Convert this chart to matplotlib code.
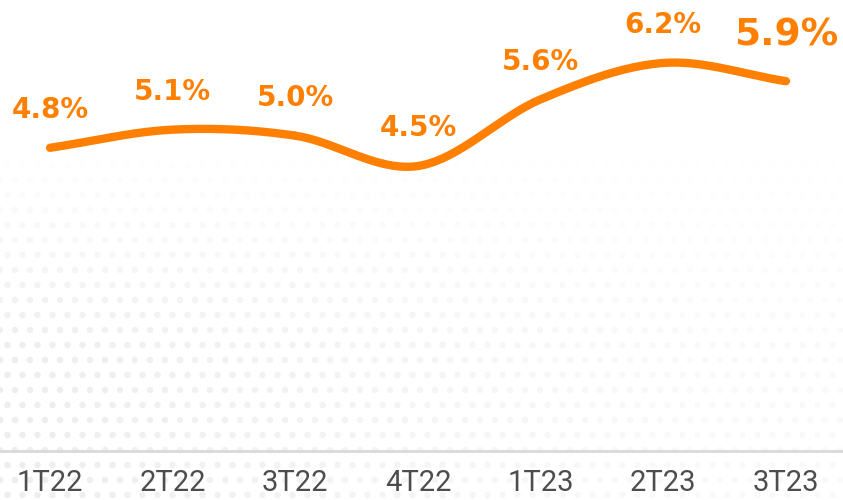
import numpy as np
import matplotlib
matplotlib.use("Agg")
import matplotlib.pyplot as plt

trimestres = ["1T22", "2T22", "3T22", "4T22", "1T23", "2T23", "3T23"]
valores = [4.8, 5.1, 5.0, 4.5, 5.6, 6.2, 5.9]
rotulos = ["4.8%", "5.1%", "5.0%", "4.5%", "5.6%", "6.2%", "5.9%"]

laranja = "#FF7F00"


def suavizar(x, y, n=40):
    # curva catmull-rom passando pelos pontos
    x = np.asarray(x, float)
    y = np.asarray(y, float)
    px = np.concatenate([[2 * x[0] - x[1]], x, [2 * x[-1] - x[-2]]])
    py = np.concatenate([[2 * y[0] - y[1]], y, [2 * y[-1] - y[-2]]])
    xs, ys = [], []
    t = np.linspace(0, 1, n)
    for i in range(1, len(px) - 2):
        for p, out in ((px, xs), (py, ys)):
            p0, p1, p2, p3 = p[i - 1], p[i], p[i + 1], p[i + 2]
            out.extend(0.5 * ((2 * p1) + (-p0 + p2) * t
                              + (2 * p0 - 5 * p1 + 4 * p2 - p3) * t ** 2
                              + (-p0 + 3 * p1 - 3 * p2 + p3) * t ** 3))
    return np.array(xs), np.array(ys)


fig = plt.figure(figsize=(8.43, 5), dpi=100)

# fundo pontilhado decorativo
bg = fig.add_axes([0, 0, 1, 1], zorder=0)
bg.set_xlim(0, 843)
bg.set_ylim(500, 0)
bg.axis("off")
gx, gy = np.meshgrid(np.arange(0, 843, 15), np.arange(150, 500, 15))
gx = gx + (gy // 15 % 2) * 7.5
forca = np.clip((gy - 150) / 200, 0, 1) * np.clip(1 - gx / 1000, 0.3, 1)
cores = np.zeros((gx.size, 4))
cores[:, :3] = 0.85
cores[:, 3] = (forca.ravel() * 0.45)
bg.scatter(gx.ravel(), gy.ravel(), s=22, c=cores, linewidths=0)

ax = fig.add_axes([0, 0.098, 1, 0.902], zorder=1)
ax.patch.set_alpha(0)
x = np.arange(len(trimestres))
ax.set_xlim(-0.408, 6.465)
ax.set_ylim(-0.203, 7.239)

sx, sy = suavizar(x, valores)
ax.plot(sx, sy, color=laranja, lw=6, solid_capstyle="round")

for i, (v, r) in enumerate(zip(valores, rotulos)):
    grande = i == len(valores) - 1
    ax.annotate(r, (i, v), xytext=(0, 33 if grande else 27), textcoords="offset points",
                ha="center", va="center", color=laranja, fontweight="bold",
                fontsize=27 if grande else 20, family="DejaVu Sans")

ax.set_xticks(x)
ax.set_xticklabels(trimestres, family="Roboto", fontsize=21, color="#4d4d4d")
ax.tick_params(axis="x", length=0, pad=13)
ax.set_yticks([])
for s in ["top", "left", "right"]:
    ax.spines[s].set_visible(False)
ax.spines["bottom"].set_color("#d9d9d9")
ax.spines["bottom"].set_linewidth(2)

fig.savefig("out.png", dpi=100)
